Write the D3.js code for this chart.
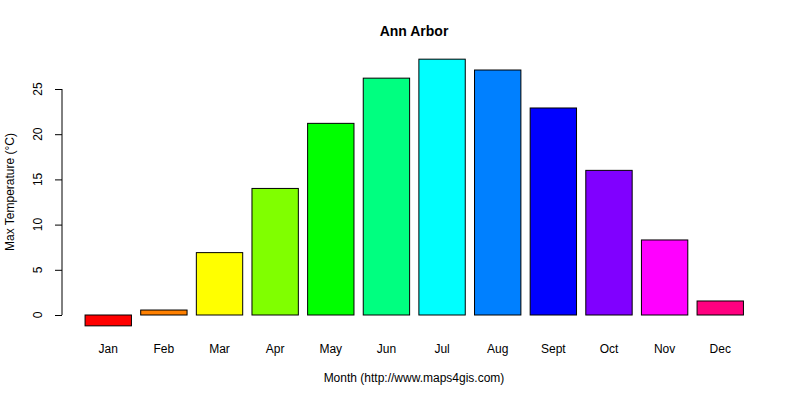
<!DOCTYPE html>
<html><head><meta charset="utf-8">
<script src="https://d3js.org/d3.v7.min.js"></script>
<style>body{margin:0;background:#fff}text{font-family:"Liberation Sans",Arial,sans-serif}</style>
</head><body><svg id="c" width="800" height="400"></svg>
<script>
const months = ["Jan","Feb","Mar","Apr","May","Jun","Jul","Aug","Sept","Oct","Nov","Dec"];
const values = [-1.2,0.55,6.9,14.0,21.2,26.2,28.3,27.1,22.9,16.0,8.3,1.55];
const colors = ["#FF0000","#FF8000","#FFFF00","#80FF00","#00FF00","#00FF80","#00FFFF","#0080FF","#0000FF","#8000FF","#FF00FF","#FF0080"];
const yTicks = [0,5,10,15,20,25];
const svg = d3.select("#c");
const y = d3.scaleLinear().domain([0,25]).range([315,89]);
const x = d3.scaleBand().domain(months).range([79.5,749]).paddingInner(1/6).paddingOuter(0.1);
svg.selectAll("rect").data(values).join("rect")
  .attr("x",(d,i)=>x(months[i])).attr("width",x.bandwidth())
  .attr("y",d=>y(Math.max(0,d))).attr("height",d=>Math.abs(y(d)-y(0)))
  .attr("fill",(d,i)=>colors[i]).attr("stroke","#000").attr("stroke-width",1);
const ax = svg.append("g").attr("transform","translate(62,0)")
  .call(d3.axisLeft(y).tickValues(yTicks).tickSize(7).tickFormat(""));
ax.select(".domain").attr("d","M0,"+y(0)+"V"+y(25));
svg.selectAll(".yl").data(yTicks).join("text").attr("class","yl")
  .attr("transform",d=>`translate(42,${y(d)}) rotate(-90)`)
  .attr("text-anchor","middle").attr("font-size",12).text(d=>d);
svg.selectAll(".ml").data(months).join("text").attr("class","ml")
  .attr("x",d=>x(d)+x.bandwidth()/2).attr("y",353).attr("text-anchor","middle")
  .attr("font-size",12).text(d=>d);
svg.append("text").attr("x",414).attr("y",36).attr("text-anchor","middle").attr("font-size",14).attr("font-weight","bold").text("Ann Arbor");
svg.append("text").attr("x",414).attr("y",382).attr("text-anchor","middle").attr("font-size",12).text("Month (http://www.maps4gis.com)");
svg.append("text").attr("transform","translate(14,192) rotate(-90)").attr("text-anchor","middle").attr("font-size",12).text("Max Temperature (°C)");
</script></body></html>
